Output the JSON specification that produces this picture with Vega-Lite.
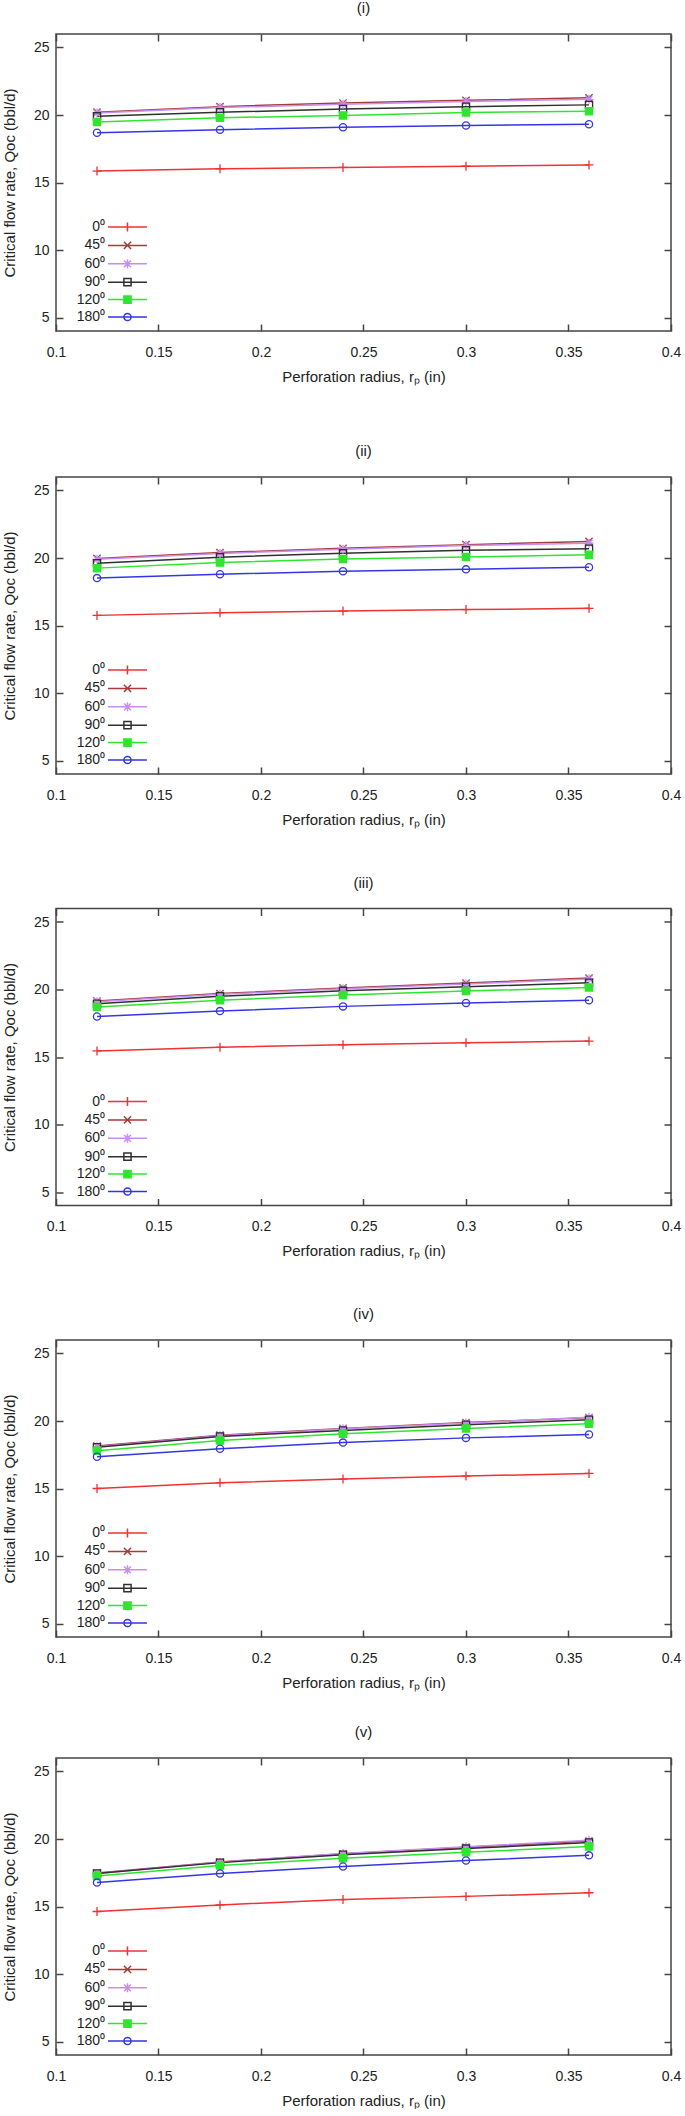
{
  "$schema": "https://vega.github.io/schema/vega-lite/v6.json",
  "background": "white",
  "padding": {"left": 1, "top": 0, "right": 4, "bottom": 0},
  "spacing": 58,
  "data": {"values": [
    {"p":"i","a":0,"r":0.12,"q":15.85},{"p":"i","a":0,"r":0.18,"q":16.01},{"p":"i","a":0,"r":0.24,"q":16.12},{"p":"i","a":0,"r":0.30,"q":16.21},{"p":"i","a":0,"r":0.36,"q":16.30},
    {"p":"i","a":45,"r":0.12,"q":20.21},{"p":"i","a":45,"r":0.18,"q":20.62},{"p":"i","a":45,"r":0.24,"q":20.89},{"p":"i","a":45,"r":0.30,"q":21.09},{"p":"i","a":45,"r":0.36,"q":21.27},
    {"p":"i","a":60,"r":0.12,"q":20.14},{"p":"i","a":60,"r":0.18,"q":20.55},{"p":"i","a":60,"r":0.24,"q":20.80},{"p":"i","a":60,"r":0.30,"q":21.00},{"p":"i","a":60,"r":0.36,"q":21.16},
    {"p":"i","a":90,"r":0.12,"q":19.90},{"p":"i","a":90,"r":0.18,"q":20.20},{"p":"i","a":90,"r":0.24,"q":20.44},{"p":"i","a":90,"r":0.30,"q":20.62},{"p":"i","a":90,"r":0.36,"q":20.75},
    {"p":"i","a":120,"r":0.12,"q":19.49},{"p":"i","a":120,"r":0.18,"q":19.79},{"p":"i","a":120,"r":0.24,"q":19.97},{"p":"i","a":120,"r":0.30,"q":20.19},{"p":"i","a":120,"r":0.36,"q":20.28},
    {"p":"i","a":180,"r":0.12,"q":18.69},{"p":"i","a":180,"r":0.18,"q":18.91},{"p":"i","a":180,"r":0.24,"q":19.09},{"p":"i","a":180,"r":0.30,"q":19.22},{"p":"i","a":180,"r":0.36,"q":19.31},

    {"p":"ii","a":0,"r":0.12,"q":15.75},{"p":"ii","a":0,"r":0.18,"q":15.95},{"p":"ii","a":0,"r":0.24,"q":16.07},{"p":"ii","a":0,"r":0.30,"q":16.18},{"p":"ii","a":0,"r":0.36,"q":16.27},
    {"p":"ii","a":45,"r":0.12,"q":19.97},{"p":"ii","a":45,"r":0.18,"q":20.40},{"p":"ii","a":45,"r":0.24,"q":20.72},{"p":"ii","a":45,"r":0.30,"q":20.99},{"p":"ii","a":45,"r":0.36,"q":21.23},
    {"p":"ii","a":60,"r":0.12,"q":19.90},{"p":"ii","a":60,"r":0.18,"q":20.33},{"p":"ii","a":60,"r":0.24,"q":20.65},{"p":"ii","a":60,"r":0.30,"q":20.92},{"p":"ii","a":60,"r":0.36,"q":21.10},
    {"p":"ii","a":90,"r":0.12,"q":19.61},{"p":"ii","a":90,"r":0.18,"q":20.06},{"p":"ii","a":90,"r":0.24,"q":20.36},{"p":"ii","a":90,"r":0.30,"q":20.58},{"p":"ii","a":90,"r":0.36,"q":20.69},
    {"p":"ii","a":120,"r":0.12,"q":19.25},{"p":"ii","a":120,"r":0.18,"q":19.66},{"p":"ii","a":120,"r":0.24,"q":19.93},{"p":"ii","a":120,"r":0.30,"q":20.08},{"p":"ii","a":120,"r":0.36,"q":20.24},
    {"p":"ii","a":180,"r":0.12,"q":18.51},{"p":"ii","a":180,"r":0.18,"q":18.80},{"p":"ii","a":180,"r":0.24,"q":19.02},{"p":"ii","a":180,"r":0.30,"q":19.16},{"p":"ii","a":180,"r":0.36,"q":19.32},

    {"p":"iii","a":0,"r":0.12,"q":15.45},{"p":"iii","a":0,"r":0.18,"q":15.72},{"p":"iii","a":0,"r":0.24,"q":15.90},{"p":"iii","a":0,"r":0.30,"q":16.05},{"p":"iii","a":0,"r":0.36,"q":16.18},
    {"p":"iii","a":45,"r":0.12,"q":19.15},{"p":"iii","a":45,"r":0.18,"q":19.70},{"p":"iii","a":45,"r":0.24,"q":20.12},{"p":"iii","a":45,"r":0.30,"q":20.48},{"p":"iii","a":45,"r":0.36,"q":20.85},
    {"p":"iii","a":60,"r":0.12,"q":19.10},{"p":"iii","a":60,"r":0.18,"q":19.65},{"p":"iii","a":60,"r":0.24,"q":20.05},{"p":"iii","a":60,"r":0.30,"q":20.40},{"p":"iii","a":60,"r":0.36,"q":20.78},
    {"p":"iii","a":90,"r":0.12,"q":18.95},{"p":"iii","a":90,"r":0.18,"q":19.50},{"p":"iii","a":90,"r":0.24,"q":19.90},{"p":"iii","a":90,"r":0.30,"q":20.20},{"p":"iii","a":90,"r":0.36,"q":20.50},
    {"p":"iii","a":120,"r":0.12,"q":18.70},{"p":"iii","a":120,"r":0.18,"q":19.20},{"p":"iii","a":120,"r":0.24,"q":19.60},{"p":"iii","a":120,"r":0.30,"q":19.88},{"p":"iii","a":120,"r":0.36,"q":20.15},
    {"p":"iii","a":180,"r":0.12,"q":18.00},{"p":"iii","a":180,"r":0.18,"q":18.40},{"p":"iii","a":180,"r":0.24,"q":18.75},{"p":"iii","a":180,"r":0.30,"q":19.00},{"p":"iii","a":180,"r":0.36,"q":19.20},

    {"p":"iv","a":0,"r":0.12,"q":15.00},{"p":"iv","a":0,"r":0.18,"q":15.42},{"p":"iv","a":0,"r":0.24,"q":15.70},{"p":"iv","a":0,"r":0.30,"q":15.92},{"p":"iv","a":0,"r":0.36,"q":16.12},
    {"p":"iv","a":45,"r":0.12,"q":18.15},{"p":"iv","a":45,"r":0.18,"q":18.95},{"p":"iv","a":45,"r":0.24,"q":19.45},{"p":"iv","a":45,"r":0.30,"q":19.88},{"p":"iv","a":45,"r":0.36,"q":20.25},
    {"p":"iv","a":60,"r":0.12,"q":18.10},{"p":"iv","a":60,"r":0.18,"q":18.90},{"p":"iv","a":60,"r":0.24,"q":19.42},{"p":"iv","a":60,"r":0.30,"q":19.85},{"p":"iv","a":60,"r":0.36,"q":20.28},
    {"p":"iv","a":90,"r":0.12,"q":18.05},{"p":"iv","a":90,"r":0.18,"q":18.85},{"p":"iv","a":90,"r":0.24,"q":19.30},{"p":"iv","a":90,"r":0.30,"q":19.72},{"p":"iv","a":90,"r":0.36,"q":20.10},
    {"p":"iv","a":120,"r":0.12,"q":17.80},{"p":"iv","a":120,"r":0.18,"q":18.55},{"p":"iv","a":120,"r":0.24,"q":19.05},{"p":"iv","a":120,"r":0.30,"q":19.45},{"p":"iv","a":120,"r":0.36,"q":19.80},
    {"p":"iv","a":180,"r":0.12,"q":17.35},{"p":"iv","a":180,"r":0.18,"q":17.95},{"p":"iv","a":180,"r":0.24,"q":18.40},{"p":"iv","a":180,"r":0.30,"q":18.75},{"p":"iv","a":180,"r":0.36,"q":19.00},

    {"p":"v","a":0,"r":0.12,"q":14.63},{"p":"v","a":0,"r":0.18,"q":15.12},{"p":"v","a":0,"r":0.24,"q":15.51},{"p":"v","a":0,"r":0.30,"q":15.75},{"p":"v","a":0,"r":0.36,"q":16.02},
    {"p":"v","a":45,"r":0.12,"q":17.49},{"p":"v","a":45,"r":0.18,"q":18.30},{"p":"v","a":45,"r":0.24,"q":18.90},{"p":"v","a":45,"r":0.30,"q":19.38},{"p":"v","a":45,"r":0.36,"q":19.85},
    {"p":"v","a":60,"r":0.12,"q":17.45},{"p":"v","a":60,"r":0.18,"q":18.28},{"p":"v","a":60,"r":0.24,"q":18.92},{"p":"v","a":60,"r":0.30,"q":19.42},{"p":"v","a":60,"r":0.36,"q":19.90},
    {"p":"v","a":90,"r":0.12,"q":17.44},{"p":"v","a":90,"r":0.18,"q":18.25},{"p":"v","a":90,"r":0.24,"q":18.84},{"p":"v","a":90,"r":0.30,"q":19.29},{"p":"v","a":90,"r":0.36,"q":19.74},
    {"p":"v","a":120,"r":0.12,"q":17.26},{"p":"v","a":120,"r":0.18,"q":18.03},{"p":"v","a":120,"r":0.24,"q":18.57},{"p":"v","a":120,"r":0.30,"q":19.02},{"p":"v","a":120,"r":0.36,"q":19.44},
    {"p":"v","a":180,"r":0.12,"q":16.77},{"p":"v","a":180,"r":0.18,"q":17.44},{"p":"v","a":180,"r":0.24,"q":17.96},{"p":"v","a":180,"r":0.30,"q":18.41},{"p":"v","a":180,"r":0.36,"q":18.79}
  ]},
  "vconcat": [
    {
      "title": {"text": "(i)"},
      "width": 615, "height": 297,
      "transform": [{"filter": "datum.p === 'i'"}],
      "layer": [
        {"mark": {"type": "line", "strokeWidth": 1.5},
         "encoding": {
           "x": {"field": "r", "type": "quantitative", "scale": {"domain": [0.1, 0.4]}, "axis": {"title": "Perforation radius, rₚ (in)", "values": [0.1,0.15,0.2,0.25,0.3,0.35,0.4], "labelExpr": "'' + datum.value"}},
           "y": {"field": "q", "type": "quantitative", "scale": {"domain": [5, 25]}, "axis": {"title": "Critical flow rate, Qoc (bbl/d)", "values": [5,10,15,20,25]}},
           "stroke": {"field": "a", "type": "nominal", "scale": {"domain": [0,45,60,90,120,180], "range": ["#f03232","#a83a3a","#c88cf5","#303030","#2ee62e","#3535e8"]},
             "legend": {"orient": "none", "legendX": 49, "legendY": 186, "title": null, "direction": "vertical", "labelExpr": "datum.label + '⁰'", "labelAlign": "right", "labelOffset": -14, "rowPadding": 3.4, "symbolSize": 81, "symbolStrokeWidth": 1.5, "symbolOpacity": 1,
               "symbolFillColor": {"expr": "datum.value === 120 ? '#2ee62e' : 'transparent'"},
               "symbolType": {"expr": "datum.value === 0 ? 'M-0.89,0L7.77,0M3.44,-1L3.44,1' : datum.value === 45 ? 'M-0.89,0L7.77,0M2.64,-0.8L4.24,0.8M2.64,0.8L4.24,-0.8' : datum.value === 60 ? 'M-0.89,0L7.77,0M3.44,-1L3.44,1M2.69,-0.75L4.19,0.75M2.69,0.75L4.19,-0.75' : datum.value === 180 ? 'M-0.89,0L7.77,0M4.24,0A0.8,0.8,0,1,1,2.64,0A0.8,0.8,0,1,1,4.24,0Z' : 'M-0.89,0L7.77,0M2.64,-0.8L4.24,-0.8L4.24,0.8L2.64,0.8Z'"}}}
         }},
        {"mark": {"type": "point", "size": 81, "strokeWidth": 1.3, "opacity": 1, "filled": false},
         "encoding": {
           "x": {"field": "r", "type": "quantitative", "axis": {"orient": "top", "labels": false, "title": null, "values": [0.1,0.15,0.2,0.25,0.3,0.35,0.4]}},
           "y": {"field": "q", "type": "quantitative", "axis": {"orient": "right", "labels": false, "title": null, "values": [5,10,15,20,25]}},
           "stroke": {"field": "a", "type": "nominal",
             "legend": {"orient": "none", "legendX": 49, "legendY": 186, "title": null, "direction": "vertical", "labelExpr": "datum.label + '⁰'", "labelAlign": "right", "labelOffset": -14, "rowPadding": 3.4, "symbolSize": 81, "symbolStrokeWidth": 1.5, "symbolOpacity": 1,
               "symbolFillColor": {"expr": "datum.value === 120 ? '#2ee62e' : 'transparent'"},
               "symbolType": {"expr": "datum.value === 0 ? 'M-0.89,0L7.77,0M3.44,-1L3.44,1' : datum.value === 45 ? 'M-0.89,0L7.77,0M2.64,-0.8L4.24,0.8M2.64,0.8L4.24,-0.8' : datum.value === 60 ? 'M-0.89,0L7.77,0M3.44,-1L3.44,1M2.69,-0.75L4.19,0.75M2.69,0.75L4.19,-0.75' : datum.value === 180 ? 'M-0.89,0L7.77,0M4.24,0A0.8,0.8,0,1,1,2.64,0A0.8,0.8,0,1,1,4.24,0Z' : 'M-0.89,0L7.77,0M2.64,-0.8L4.24,-0.8L4.24,0.8L2.64,0.8Z'"}}},
           "shape": {"field": "a", "type": "nominal", "legend": null, "scale": {"domain": [0,45,60,90,120,180], "range": ["M-1,0L1,0M0,-1L0,1","M-0.8,-0.8L0.8,0.8M-0.8,0.8L0.8,-0.8","M-1,0L1,0M0,-1L0,1M-0.75,-0.75L0.75,0.75M-0.75,0.75L0.75,-0.75","M-0.8,-0.8L0.8,-0.8L0.8,0.8L-0.8,0.8Z","M-0.8,-0.8L0.8,-0.8L0.8,0.8L-0.8,0.8Z","M0.8,0A0.8,0.8,0,1,1,-0.8,0A0.8,0.8,0,1,1,0.8,0Z"]}},
           "fill": {"field": "a", "type": "nominal", "scale": {"domain": [0,45,60,90,120,180], "range": ["transparent","transparent","transparent","transparent","#2ee62e","transparent"]}, "legend": null}
         }}
      ],
      "resolve": {"axis": {"x": "independent", "y": "independent"}}
    },
    {
      "spacing": 33,
      "resolve": {"legend": {"stroke": "independent"}},
      "vconcat": [
        {
          "spacing": 46.5,
          "resolve": {"legend": {"stroke": "independent"}},
          "vconcat": [
            {
              "title": {"text": "(ii)"},
              "width": 615, "height": 297,
              "transform": [{"filter": "datum.p === 'ii'"}],
              "layer": [
                {"mark": {"type": "line", "strokeWidth": 1.5},
                 "encoding": {
                   "x": {"field": "r", "type": "quantitative", "scale": {"domain": [0.1, 0.4]}, "axis": {"title": "Perforation radius, rₚ (in)", "values": [0.1,0.15,0.2,0.25,0.3,0.35,0.4], "labelExpr": "'' + datum.value"}},
                   "y": {"field": "q", "type": "quantitative", "scale": {"domain": [5, 25]}, "axis": {"title": "Critical flow rate, Qoc (bbl/d)", "values": [5,10,15,20,25]}},
                   "stroke": {"field": "a", "type": "nominal", "scale": {"domain": [0,45,60,90,120,180], "range": ["#f03232","#a83a3a","#c88cf5","#303030","#2ee62e","#3535e8"]},
                     "legend": {"orient": "none", "legendX": 49, "legendY": 186, "title": null, "direction": "vertical", "labelExpr": "datum.label + '⁰'", "labelAlign": "right", "labelOffset": -14, "rowPadding": 3.4, "symbolSize": 81, "symbolStrokeWidth": 1.5, "symbolOpacity": 1,
                       "symbolFillColor": {"expr": "datum.value === 120 ? '#2ee62e' : 'transparent'"},
                       "symbolType": {"expr": "datum.value === 0 ? 'M-0.89,0L7.77,0M3.44,-1L3.44,1' : datum.value === 45 ? 'M-0.89,0L7.77,0M2.64,-0.8L4.24,0.8M2.64,0.8L4.24,-0.8' : datum.value === 60 ? 'M-0.89,0L7.77,0M3.44,-1L3.44,1M2.69,-0.75L4.19,0.75M2.69,0.75L4.19,-0.75' : datum.value === 180 ? 'M-0.89,0L7.77,0M4.24,0A0.8,0.8,0,1,1,2.64,0A0.8,0.8,0,1,1,4.24,0Z' : 'M-0.89,0L7.77,0M2.64,-0.8L4.24,-0.8L4.24,0.8L2.64,0.8Z'"}}}
                 }},
                {"mark": {"type": "point", "size": 81, "strokeWidth": 1.3, "opacity": 1, "filled": false},
                 "encoding": {
                   "x": {"field": "r", "type": "quantitative", "axis": {"orient": "top", "labels": false, "title": null, "values": [0.1,0.15,0.2,0.25,0.3,0.35,0.4]}},
                   "y": {"field": "q", "type": "quantitative", "axis": {"orient": "right", "labels": false, "title": null, "values": [5,10,15,20,25]}},
                   "stroke": {"field": "a", "type": "nominal",
                     "legend": {"orient": "none", "legendX": 49, "legendY": 186, "title": null, "direction": "vertical", "labelExpr": "datum.label + '⁰'", "labelAlign": "right", "labelOffset": -14, "rowPadding": 3.4, "symbolSize": 81, "symbolStrokeWidth": 1.5, "symbolOpacity": 1,
                       "symbolFillColor": {"expr": "datum.value === 120 ? '#2ee62e' : 'transparent'"},
                       "symbolType": {"expr": "datum.value === 0 ? 'M-0.89,0L7.77,0M3.44,-1L3.44,1' : datum.value === 45 ? 'M-0.89,0L7.77,0M2.64,-0.8L4.24,0.8M2.64,0.8L4.24,-0.8' : datum.value === 60 ? 'M-0.89,0L7.77,0M3.44,-1L3.44,1M2.69,-0.75L4.19,0.75M2.69,0.75L4.19,-0.75' : datum.value === 180 ? 'M-0.89,0L7.77,0M4.24,0A0.8,0.8,0,1,1,2.64,0A0.8,0.8,0,1,1,4.24,0Z' : 'M-0.89,0L7.77,0M2.64,-0.8L4.24,-0.8L4.24,0.8L2.64,0.8Z'"}}},
                   "shape": {"field": "a", "type": "nominal", "legend": null, "scale": {"domain": [0,45,60,90,120,180], "range": ["M-1,0L1,0M0,-1L0,1","M-0.8,-0.8L0.8,0.8M-0.8,0.8L0.8,-0.8","M-1,0L1,0M0,-1L0,1M-0.75,-0.75L0.75,0.75M-0.75,0.75L0.75,-0.75","M-0.8,-0.8L0.8,-0.8L0.8,0.8L-0.8,0.8Z","M-0.8,-0.8L0.8,-0.8L0.8,0.8L-0.8,0.8Z","M0.8,0A0.8,0.8,0,1,1,-0.8,0A0.8,0.8,0,1,1,0.8,0Z"]}},
                   "fill": {"field": "a", "type": "nominal", "scale": {"domain": [0,45,60,90,120,180], "range": ["transparent","transparent","transparent","transparent","#2ee62e","transparent"]}, "legend": null}
                 }}
              ],
              "resolve": {"axis": {"x": "independent", "y": "independent"}}
            },
            {
              "title": {"text": "(iii)"},
              "width": 615, "height": 297,
              "transform": [{"filter": "datum.p === 'iii'"}],
              "layer": [
                {"mark": {"type": "line", "strokeWidth": 1.5},
                 "encoding": {
                   "x": {"field": "r", "type": "quantitative", "scale": {"domain": [0.1, 0.4]}, "axis": {"title": "Perforation radius, rₚ (in)", "values": [0.1,0.15,0.2,0.25,0.3,0.35,0.4], "labelExpr": "'' + datum.value"}},
                   "y": {"field": "q", "type": "quantitative", "scale": {"domain": [5, 25]}, "axis": {"title": "Critical flow rate, Qoc (bbl/d)", "values": [5,10,15,20,25]}},
                   "stroke": {"field": "a", "type": "nominal", "scale": {"domain": [0,45,60,90,120,180], "range": ["#f03232","#a83a3a","#c88cf5","#303030","#2ee62e","#3535e8"]},
                     "legend": {"orient": "none", "legendX": 49, "legendY": 186, "title": null, "direction": "vertical", "labelExpr": "datum.label + '⁰'", "labelAlign": "right", "labelOffset": -14, "rowPadding": 3.4, "symbolSize": 81, "symbolStrokeWidth": 1.5, "symbolOpacity": 1,
                       "symbolFillColor": {"expr": "datum.value === 120 ? '#2ee62e' : 'transparent'"},
                       "symbolType": {"expr": "datum.value === 0 ? 'M-0.89,0L7.77,0M3.44,-1L3.44,1' : datum.value === 45 ? 'M-0.89,0L7.77,0M2.64,-0.8L4.24,0.8M2.64,0.8L4.24,-0.8' : datum.value === 60 ? 'M-0.89,0L7.77,0M3.44,-1L3.44,1M2.69,-0.75L4.19,0.75M2.69,0.75L4.19,-0.75' : datum.value === 180 ? 'M-0.89,0L7.77,0M4.24,0A0.8,0.8,0,1,1,2.64,0A0.8,0.8,0,1,1,4.24,0Z' : 'M-0.89,0L7.77,0M2.64,-0.8L4.24,-0.8L4.24,0.8L2.64,0.8Z'"}}}
                 }},
                {"mark": {"type": "point", "size": 81, "strokeWidth": 1.3, "opacity": 1, "filled": false},
                 "encoding": {
                   "x": {"field": "r", "type": "quantitative", "axis": {"orient": "top", "labels": false, "title": null, "values": [0.1,0.15,0.2,0.25,0.3,0.35,0.4]}},
                   "y": {"field": "q", "type": "quantitative", "axis": {"orient": "right", "labels": false, "title": null, "values": [5,10,15,20,25]}},
                   "stroke": {"field": "a", "type": "nominal",
                     "legend": {"orient": "none", "legendX": 49, "legendY": 186, "title": null, "direction": "vertical", "labelExpr": "datum.label + '⁰'", "labelAlign": "right", "labelOffset": -14, "rowPadding": 3.4, "symbolSize": 81, "symbolStrokeWidth": 1.5, "symbolOpacity": 1,
                       "symbolFillColor": {"expr": "datum.value === 120 ? '#2ee62e' : 'transparent'"},
                       "symbolType": {"expr": "datum.value === 0 ? 'M-0.89,0L7.77,0M3.44,-1L3.44,1' : datum.value === 45 ? 'M-0.89,0L7.77,0M2.64,-0.8L4.24,0.8M2.64,0.8L4.24,-0.8' : datum.value === 60 ? 'M-0.89,0L7.77,0M3.44,-1L3.44,1M2.69,-0.75L4.19,0.75M2.69,0.75L4.19,-0.75' : datum.value === 180 ? 'M-0.89,0L7.77,0M4.24,0A0.8,0.8,0,1,1,2.64,0A0.8,0.8,0,1,1,4.24,0Z' : 'M-0.89,0L7.77,0M2.64,-0.8L4.24,-0.8L4.24,0.8L2.64,0.8Z'"}}},
                   "shape": {"field": "a", "type": "nominal", "legend": null, "scale": {"domain": [0,45,60,90,120,180], "range": ["M-1,0L1,0M0,-1L0,1","M-0.8,-0.8L0.8,0.8M-0.8,0.8L0.8,-0.8","M-1,0L1,0M0,-1L0,1M-0.75,-0.75L0.75,0.75M-0.75,0.75L0.75,-0.75","M-0.8,-0.8L0.8,-0.8L0.8,0.8L-0.8,0.8Z","M-0.8,-0.8L0.8,-0.8L0.8,0.8L-0.8,0.8Z","M0.8,0A0.8,0.8,0,1,1,-0.8,0A0.8,0.8,0,1,1,0.8,0Z"]}},
                   "fill": {"field": "a", "type": "nominal", "scale": {"domain": [0,45,60,90,120,180], "range": ["transparent","transparent","transparent","transparent","#2ee62e","transparent"]}, "legend": null}
                 }}
              ],
              "resolve": {"axis": {"x": "independent", "y": "independent"}}
            },
            {
              "title": {"text": "(iv)"},
              "width": 615, "height": 297,
              "transform": [{"filter": "datum.p === 'iv'"}],
              "layer": [
                {"mark": {"type": "line", "strokeWidth": 1.5},
                 "encoding": {
                   "x": {"field": "r", "type": "quantitative", "scale": {"domain": [0.1, 0.4]}, "axis": {"title": "Perforation radius, rₚ (in)", "values": [0.1,0.15,0.2,0.25,0.3,0.35,0.4], "labelExpr": "'' + datum.value"}},
                   "y": {"field": "q", "type": "quantitative", "scale": {"domain": [5, 25]}, "axis": {"title": "Critical flow rate, Qoc (bbl/d)", "values": [5,10,15,20,25]}},
                   "stroke": {"field": "a", "type": "nominal", "scale": {"domain": [0,45,60,90,120,180], "range": ["#f03232","#a83a3a","#c88cf5","#303030","#2ee62e","#3535e8"]},
                     "legend": {"orient": "none", "legendX": 49, "legendY": 186, "title": null, "direction": "vertical", "labelExpr": "datum.label + '⁰'", "labelAlign": "right", "labelOffset": -14, "rowPadding": 3.4, "symbolSize": 81, "symbolStrokeWidth": 1.5, "symbolOpacity": 1,
                       "symbolFillColor": {"expr": "datum.value === 120 ? '#2ee62e' : 'transparent'"},
                       "symbolType": {"expr": "datum.value === 0 ? 'M-0.89,0L7.77,0M3.44,-1L3.44,1' : datum.value === 45 ? 'M-0.89,0L7.77,0M2.64,-0.8L4.24,0.8M2.64,0.8L4.24,-0.8' : datum.value === 60 ? 'M-0.89,0L7.77,0M3.44,-1L3.44,1M2.69,-0.75L4.19,0.75M2.69,0.75L4.19,-0.75' : datum.value === 180 ? 'M-0.89,0L7.77,0M4.24,0A0.8,0.8,0,1,1,2.64,0A0.8,0.8,0,1,1,4.24,0Z' : 'M-0.89,0L7.77,0M2.64,-0.8L4.24,-0.8L4.24,0.8L2.64,0.8Z'"}}}
                 }},
                {"mark": {"type": "point", "size": 81, "strokeWidth": 1.3, "opacity": 1, "filled": false},
                 "encoding": {
                   "x": {"field": "r", "type": "quantitative", "axis": {"orient": "top", "labels": false, "title": null, "values": [0.1,0.15,0.2,0.25,0.3,0.35,0.4]}},
                   "y": {"field": "q", "type": "quantitative", "axis": {"orient": "right", "labels": false, "title": null, "values": [5,10,15,20,25]}},
                   "stroke": {"field": "a", "type": "nominal",
                     "legend": {"orient": "none", "legendX": 49, "legendY": 186, "title": null, "direction": "vertical", "labelExpr": "datum.label + '⁰'", "labelAlign": "right", "labelOffset": -14, "rowPadding": 3.4, "symbolSize": 81, "symbolStrokeWidth": 1.5, "symbolOpacity": 1,
                       "symbolFillColor": {"expr": "datum.value === 120 ? '#2ee62e' : 'transparent'"},
                       "symbolType": {"expr": "datum.value === 0 ? 'M-0.89,0L7.77,0M3.44,-1L3.44,1' : datum.value === 45 ? 'M-0.89,0L7.77,0M2.64,-0.8L4.24,0.8M2.64,0.8L4.24,-0.8' : datum.value === 60 ? 'M-0.89,0L7.77,0M3.44,-1L3.44,1M2.69,-0.75L4.19,0.75M2.69,0.75L4.19,-0.75' : datum.value === 180 ? 'M-0.89,0L7.77,0M4.24,0A0.8,0.8,0,1,1,2.64,0A0.8,0.8,0,1,1,4.24,0Z' : 'M-0.89,0L7.77,0M2.64,-0.8L4.24,-0.8L4.24,0.8L2.64,0.8Z'"}}},
                   "shape": {"field": "a", "type": "nominal", "legend": null, "scale": {"domain": [0,45,60,90,120,180], "range": ["M-1,0L1,0M0,-1L0,1","M-0.8,-0.8L0.8,0.8M-0.8,0.8L0.8,-0.8","M-1,0L1,0M0,-1L0,1M-0.75,-0.75L0.75,0.75M-0.75,0.75L0.75,-0.75","M-0.8,-0.8L0.8,-0.8L0.8,0.8L-0.8,0.8Z","M-0.8,-0.8L0.8,-0.8L0.8,0.8L-0.8,0.8Z","M0.8,0A0.8,0.8,0,1,1,-0.8,0A0.8,0.8,0,1,1,0.8,0Z"]}},
                   "fill": {"field": "a", "type": "nominal", "scale": {"domain": [0,45,60,90,120,180], "range": ["transparent","transparent","transparent","transparent","#2ee62e","transparent"]}, "legend": null}
                 }}
              ],
              "resolve": {"axis": {"x": "independent", "y": "independent"}}
            }
          ]
        },
        {
          "title": {"text": "(v)"},
          "width": 615, "height": 297,
          "transform": [{"filter": "datum.p === 'v'"}],
          "layer": [
            {"mark": {"type": "line", "strokeWidth": 1.5},
             "encoding": {
               "x": {"field": "r", "type": "quantitative", "scale": {"domain": [0.1, 0.4]}, "axis": {"title": "Perforation radius, rₚ (in)", "values": [0.1,0.15,0.2,0.25,0.3,0.35,0.4], "labelExpr": "'' + datum.value"}},
               "y": {"field": "q", "type": "quantitative", "scale": {"domain": [5, 25]}, "axis": {"title": "Critical flow rate, Qoc (bbl/d)", "values": [5,10,15,20,25]}},
               "stroke": {"field": "a", "type": "nominal", "scale": {"domain": [0,45,60,90,120,180], "range": ["#f03232","#a83a3a","#c88cf5","#303030","#2ee62e","#3535e8"]},
                 "legend": {"orient": "none", "legendX": 49, "legendY": 186, "title": null, "direction": "vertical", "labelExpr": "datum.label + '⁰'", "labelAlign": "right", "labelOffset": -14, "rowPadding": 3.4, "symbolSize": 81, "symbolStrokeWidth": 1.5, "symbolOpacity": 1,
                   "symbolFillColor": {"expr": "datum.value === 120 ? '#2ee62e' : 'transparent'"},
                   "symbolType": {"expr": "datum.value === 0 ? 'M-0.89,0L7.77,0M3.44,-1L3.44,1' : datum.value === 45 ? 'M-0.89,0L7.77,0M2.64,-0.8L4.24,0.8M2.64,0.8L4.24,-0.8' : datum.value === 60 ? 'M-0.89,0L7.77,0M3.44,-1L3.44,1M2.69,-0.75L4.19,0.75M2.69,0.75L4.19,-0.75' : datum.value === 180 ? 'M-0.89,0L7.77,0M4.24,0A0.8,0.8,0,1,1,2.64,0A0.8,0.8,0,1,1,4.24,0Z' : 'M-0.89,0L7.77,0M2.64,-0.8L4.24,-0.8L4.24,0.8L2.64,0.8Z'"}}}
             }},
            {"mark": {"type": "point", "size": 81, "strokeWidth": 1.3, "opacity": 1, "filled": false},
             "encoding": {
               "x": {"field": "r", "type": "quantitative", "axis": {"orient": "top", "labels": false, "title": null, "values": [0.1,0.15,0.2,0.25,0.3,0.35,0.4]}},
               "y": {"field": "q", "type": "quantitative", "axis": {"orient": "right", "labels": false, "title": null, "values": [5,10,15,20,25]}},
               "stroke": {"field": "a", "type": "nominal",
                 "legend": {"orient": "none", "legendX": 49, "legendY": 186, "title": null, "direction": "vertical", "labelExpr": "datum.label + '⁰'", "labelAlign": "right", "labelOffset": -14, "rowPadding": 3.4, "symbolSize": 81, "symbolStrokeWidth": 1.5, "symbolOpacity": 1,
                   "symbolFillColor": {"expr": "datum.value === 120 ? '#2ee62e' : 'transparent'"},
                   "symbolType": {"expr": "datum.value === 0 ? 'M-0.89,0L7.77,0M3.44,-1L3.44,1' : datum.value === 45 ? 'M-0.89,0L7.77,0M2.64,-0.8L4.24,0.8M2.64,0.8L4.24,-0.8' : datum.value === 60 ? 'M-0.89,0L7.77,0M3.44,-1L3.44,1M2.69,-0.75L4.19,0.75M2.69,0.75L4.19,-0.75' : datum.value === 180 ? 'M-0.89,0L7.77,0M4.24,0A0.8,0.8,0,1,1,2.64,0A0.8,0.8,0,1,1,4.24,0Z' : 'M-0.89,0L7.77,0M2.64,-0.8L4.24,-0.8L4.24,0.8L2.64,0.8Z'"}}},
               "shape": {"field": "a", "type": "nominal", "legend": null, "scale": {"domain": [0,45,60,90,120,180], "range": ["M-1,0L1,0M0,-1L0,1","M-0.8,-0.8L0.8,0.8M-0.8,0.8L0.8,-0.8","M-1,0L1,0M0,-1L0,1M-0.75,-0.75L0.75,0.75M-0.75,0.75L0.75,-0.75","M-0.8,-0.8L0.8,-0.8L0.8,0.8L-0.8,0.8Z","M-0.8,-0.8L0.8,-0.8L0.8,0.8L-0.8,0.8Z","M0.8,0A0.8,0.8,0,1,1,-0.8,0A0.8,0.8,0,1,1,0.8,0Z"]}},
               "fill": {"field": "a", "type": "nominal", "scale": {"domain": [0,45,60,90,120,180], "range": ["transparent","transparent","transparent","transparent","#2ee62e","transparent"]}, "legend": null}
             }}
          ],
          "resolve": {"axis": {"x": "independent", "y": "independent"}}
        }
      ]
    }
  ],
  "resolve": {"legend": {"stroke": "independent"}},
  "config": {
    "font": "Liberation Sans",
    "view": {"stroke": "#444444", "strokeWidth": 1.5},
    "title": {"font": "Liberation Sans", "fontSize": 15, "fontWeight": "normal", "color": "#222222", "offset": 17, "frame": "group", "anchor": "middle"},
    "axis": {"domain": false, "grid": false, "tickSize": -7, "tickColor": "#444444", "tickWidth": 1.5,
             "labelFont": "Liberation Sans", "labelFontSize": 14, "labelColor": "#222222",
             "titleFont": "Liberation Sans", "titleFontSize": 15, "titleFontWeight": "normal", "titleColor": "#222222"},
    "axisX": {"labelPadding": 21, "titlePadding": 10, "labelFlush": false},
    "axisY": {"labelPadding": 14, "titlePadding": 16},
    "legend": {"labelFont": "Liberation Sans", "labelFontSize": 14, "labelColor": "#222222", "padding": 0}
  }
}
